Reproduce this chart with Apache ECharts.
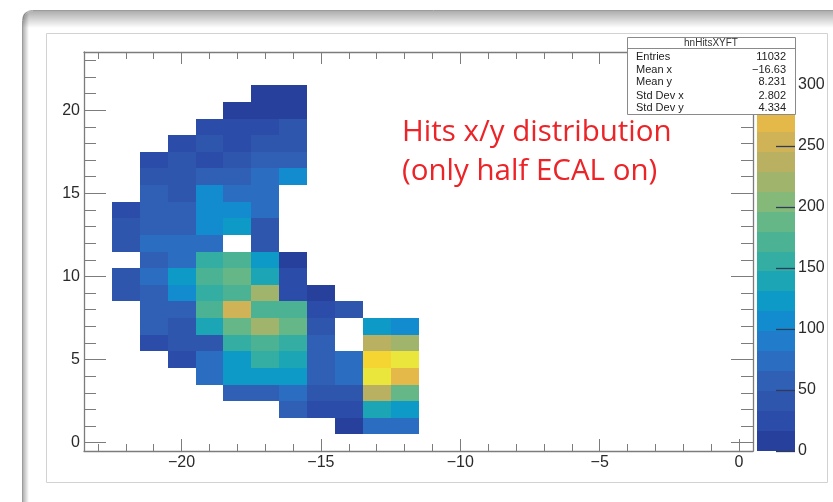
<!DOCTYPE html>
<html>
<head>
<meta charset="utf-8">
<script src="https://cdn.jsdelivr.net/npm/echarts@6/dist/echarts.min.js"></script>
<style>
html,body{margin:0;padding:0;background:#fff;}
#c{width:833px;height:502px;}
</style>
</head>
<body>
<div id="c"></div>
<script>
// ---- data (bin centres, counts per row: y = 1 .. 21, columns x = -22 .. -12) ----
const xBins = [-22, -21, -20, -19, -18, -17, -16, -15, -14, -13, -12];
const yBins = [1, 2, 3, 4, 5, 6, 7, 8, 9, 10, 11, 12, 13, 14, 15, 16, 17, 18, 19, 20, 21];
const counts = [
  [0, 0, 0, 0, 0, 0, 0, 0, 14, 80, 80],            // y=1
  [0, 0, 0, 0, 0, 0, 50, 28, 28, 145, 125],        // y=2
  [0, 0, 0, 0, 55, 55, 72, 45, 48, 232, 195],      // y=3
  [0, 0, 0, 80, 125, 125, 122, 55, 78, 318, 262],  // y=4
  [0, 0, 25, 80, 125, 160, 142, 55, 80, 295, 327], // y=5
  [0, 28, 40, 40, 160, 172, 160, 55, 0, 245, 215], // y=6
  [0, 50, 48, 145, 195, 225, 195, 40, 0, 125, 110],// y=7
  [0, 55, 55, 175, 255, 175, 175, 25, 45, 0, 0],   // y=8
  [45, 55, 102, 160, 172, 218, 30, 14, 0, 0, 0],   // y=9
  [45, 80, 118, 175, 195, 145, 30, 0, 0, 0, 0],    // y=10
  [0, 55, 75, 160, 172, 115, 14, 0, 0, 0, 0],      // y=11
  [45, 80, 80, 78, 0, 45, 0, 0, 0, 0, 0],          // y=12
  [45, 65, 62, 102, 122, 45, 0, 0, 0, 0, 0],       // y=13
  [25, 65, 62, 102, 105, 75, 0, 0, 0, 0, 0],       // y=14
  [0, 65, 45, 102, 80, 80, 0, 0, 0, 0, 0],         // y=15
  [0, 45, 45, 58, 58, 72, 100, 0, 0, 0, 0],        // y=16
  [0, 25, 40, 22, 40, 65, 65, 0, 0, 0, 0],         // y=17
  [0, 0, 25, 40, 25, 40, 40, 0, 0, 0, 0],          // y=18
  [0, 0, 0, 25, 30, 30, 35, 0, 0, 0, 0],           // y=19
  [0, 0, 0, 0, 14, 14, 14, 0, 0, 0, 0],            // y=20
  [0, 0, 0, 0, 0, 14, 14, 0, 0, 0, 0]              // y=21
];
const xMajorTicks = [-20, -15, -10, -5, 0];
const xMinorTicks = [-23, -22, -21, -19, -18, -17, -16, -14, -13, -12, -11, -9, -8, -7, -6, -4, -3, -2, -1];
const yMajorTicks = [0, 5, 10, 15, 20];
const yMinorTicks = [1, 2, 3, 4, 6, 7, 8, 9, 11, 12, 13, 14, 16, 17, 18, 19, 21, 22, 23];
const zTicks = [0, 50, 100, 150, 200, 250, 300];
const Z_MAX = 327;
const statsTitle = 'hnHitsXYFT';
const statsNames = ['Entries', 'Mean x', 'Mean y', 'Std Dev x', 'Std Dev y'];
const statsValues = ['11032', '\u221216.63', '8.231', '2.802', '4.334'];
const noteLines = ['Hits x/y distribution', '(only half ECAL on)'];

// ---- style ----
const X_MIN = -23.5, X_MAX = 0.5, Y_MIN = -0.5, Y_MAX = 23.5, BIN = 1;
const paletteColors = [
  '#26409c', '#2b4ca8', '#2e56ad', '#2f60b5', '#2a6dc1',
  '#217ccb', '#138bcf', '#0e9ac6', '#1ca5b5', '#34ada3',
  '#4cb294', '#66b787', '#84b979', '#a0b46c', '#bab062',
  '#d0b257', '#e4b849', '#f4c33a', '#f4d532', '#ebe63b'
];
const N_LEVELS = paletteColors.length;
function levelOf(v) { return Math.min(N_LEVELS - 1, Math.floor(v / (Z_MAX / N_LEVELS))); }

const cells = [];
counts.forEach((row, i) => row.forEach((v, j) => { if (v > 0) cells.push([xBins[j], yBins[i], v]); }));
const levels = paletteColors.map((c, i) => [0.5, i]);

const AX = '#7c7c7c';
const labelFont = { fontFamily: 'Liberation Sans', fontSize: 16, color: '#2a2a2a' };
const fmt = v => (v < 0 ? '\u2212' + Math.abs(v) : String(v));

function xAxisDef(position, ticks, len, showLine, showLabels) {
  return {
    type: 'value', gridIndex: 0, position: position, min: X_MIN, max: X_MAX, z: 5,
    axisLine: { show: showLine, onZero: false, lineStyle: { color: AX, width: 1.3 } },
    axisTick: { show: true, inside: true, length: len, customValues: ticks, lineStyle: { color: AX, width: 1 } },
    axisLabel: Object.assign({ show: showLabels, customValues: ticks, margin: 4, formatter: fmt }, labelFont),
    splitLine: { show: false }, minorTick: { show: false }
  };
}
function yAxisDef(position, ticks, len, showLine, showLabels) {
  return {
    type: 'value', gridIndex: 0, position: position, min: Y_MIN, max: Y_MAX, z: 5,
    axisLine: { show: showLine, onZero: false, lineStyle: { color: AX, width: 1.3 } },
    axisTick: { show: true, inside: true, length: len, customValues: ticks, lineStyle: { color: AX, width: 1 } },
    axisLabel: Object.assign({ show: showLabels, customValues: ticks, margin: 4, formatter: fmt }, labelFont),
    splitLine: { show: false }, minorTick: { show: false }
  };
}

const chart = echarts.init(document.getElementById('c'), null, { renderer: 'canvas' });

const graphic = [
  { type: 'rect', z: -10, shape: { x: 22.5, y: 10.5, width: 880, height: 560, r: 10 },
    style: { fill: '#ffffff', stroke: '#9c9c9c', lineWidth: 1 } },
  { type: 'rect', z: -9, shape: { x: 23, y: 11, width: 860, height: 17, r: [10, 0, 0, 0] },
    style: { fill: new echarts.graphic.LinearGradient(0, 0, 0, 1, [
      { offset: 0, color: 'rgba(0,0,0,0.32)' }, { offset: 1, color: 'rgba(0,0,0,0)' }]) } },
  { type: 'rect', z: -9, shape: { x: 23, y: 11, width: 6, height: 500, r: [10, 0, 0, 0] },
    style: { fill: new echarts.graphic.LinearGradient(0, 0, 1, 0, [
      { offset: 0, color: 'rgba(0,0,0,0.30)' }, { offset: 1, color: 'rgba(0,0,0,0)' }]) } },
  { type: 'rect', z: -8, shape: { x: 46.5, y: 33.5, width: 781, height: 449 },
    style: { fill: '#ffffff', stroke: '#d2d2d2', lineWidth: 1 } },
  // annotation
  { type: 'text', z: 50, x: 402, y: 133,
    style: { text: noteLines[0], fill: '#ec2327', font: '29.5px "Open Sans"', textAlign: 'left', textVerticalAlign: 'middle', align: 'left', verticalAlign: 'middle' } },
  { type: 'text', z: 50, x: 402, y: 172,
    style: { text: noteLines[1], fill: '#ec2327', font: '29.5px "Open Sans"', textAlign: 'left', textVerticalAlign: 'middle', align: 'left', verticalAlign: 'middle' } },
  // stats box
  { type: 'rect', z: 100, shape: { x: 627.5, y: 37.5, width: 168, height: 77 },
    style: { fill: '#ffffff', stroke: '#8a8a8a', lineWidth: 1 } },
  { type: 'line', z: 101, shape: { x1: 627.5, y1: 48.5, x2: 795.5, y2: 48.5 },
    style: { stroke: '#8a8a8a', lineWidth: 1 } },
  { type: 'text', z: 102, x: 711, y: 43.5,
    style: { text: statsTitle, fill: '#333', font: '10px "Liberation Sans"', textAlign: 'center', textVerticalAlign: 'middle', align: 'center', verticalAlign: 'middle' } }
];
const rowY = [57, 69.5, 82, 95.5, 108];
statsNames.forEach((n, i) => {
  graphic.push({ type: 'text', z: 102, x: 636, y: rowY[i],
    style: { text: n, fill: '#222', font: '11px "Liberation Sans"', textAlign: 'left', textVerticalAlign: 'middle', align: 'left', verticalAlign: 'middle' } });
  graphic.push({ type: 'text', z: 102, x: 786, y: rowY[i],
    style: { text: statsValues[i], fill: '#222', font: '11px "Liberation Sans"', textAlign: 'right', textVerticalAlign: 'middle', align: 'right', verticalAlign: 'middle' } });
});

chart.setOption({
  animation: false,
  backgroundColor: '#ffffff',
  grid: [
    { left: 84, right: 80, top: 52, bottom: 51, outerBoundsMode: 'none', containLabel: false },
    { left: 757, right: 38, top: 52, bottom: 51, outerBoundsMode: 'none', containLabel: false }
  ],
  xAxis: [
    xAxisDef('bottom', xMajorTicks, 12, true, true),
    xAxisDef('bottom', xMinorTicks, 7, false, false),
    xAxisDef('top', xMajorTicks, 12, true, false),
    xAxisDef('top', xMinorTicks, 7, false, false),
    { type: 'value', gridIndex: 1, min: 0, max: 1, show: false }
  ],
  yAxis: [
    yAxisDef('left', yMajorTicks, 22, true, true),
    yAxisDef('left', yMinorTicks, 12, false, false),
    yAxisDef('right', yMajorTicks, 22, true, false),
    yAxisDef('right', yMinorTicks, 12, false, false),
    {
      type: 'value', gridIndex: 1, position: 'right', min: 0, max: Z_MAX, z: 10,
      axisLine: { show: false, onZero: false },
      axisTick: { show: true, inside: true, length: 19, customValues: zTicks, lineStyle: { color: '#2f3b5a', width: 1.3 } },
      axisLabel: Object.assign({ customValues: zTicks, margin: 3 }, labelFont),
      splitLine: { show: false }
    }
  ],
  graphic: graphic,
  series: [
    {
      type: 'custom', xAxisIndex: 0, yAxisIndex: 0, data: cells, silent: true, clip: true, z: 2,
      renderItem: function (params, api) {
        const x = api.value(0), y = api.value(1), v = api.value(2);
        const a = api.coord([x - BIN / 2, y + BIN / 2]);
        const b = api.coord([x + BIN / 2, y - BIN / 2]);
        const x0 = Math.round(a[0]), y0 = Math.round(a[1]), x1 = Math.round(b[0]), y1 = Math.round(b[1]);
        return { type: 'rect', shape: { x: x0, y: y0, width: x1 - x0, height: y1 - y0 },
          style: { fill: paletteColors[levelOf(v)] } };
      }
    },
    {
      type: 'custom', xAxisIndex: 4, yAxisIndex: 4, data: levels, silent: true, z: 1,
      renderItem: function (params, api) {
        const lv = api.value(1), step = Z_MAX / N_LEVELS;
        const a = api.coord([0, (lv + 1) * step]);
        const b = api.coord([1, lv * step]);
        const y0 = Math.round(a[1]), y1 = Math.round(b[1]);
        return { type: 'rect', shape: { x: a[0], y: y0, width: b[0] - a[0], height: y1 - y0 },
          style: { fill: paletteColors[lv] } };
      }
    }
  ]
});
</script>
</body>
</html>
